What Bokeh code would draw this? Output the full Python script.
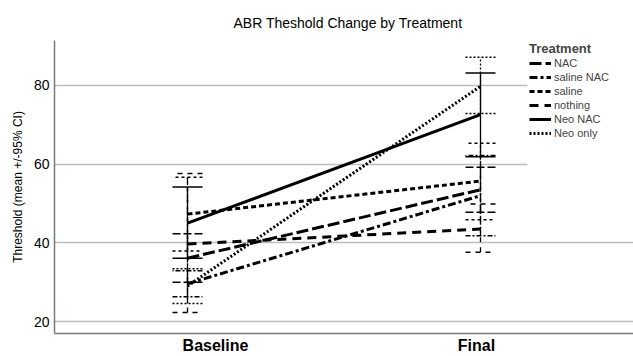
from bokeh.plotting import figure
from bokeh.models import (ColumnDataSource, Whisker, TeeHead, Legend, LegendItem,
                          FixedTicker, BoxAnnotation, Range1d)
from bokeh.embed import file_html
from bokeh.resources import INLINE

# ---------------- data ----------------
phases = ["Baseline", "Final"]
treatments = ["NAC", "saline NAC", "saline", "nothing", "Neo NAC", "Neo only"]

mean_baseline = [36.1, 29.6, 47.3, 39.7, 45.0, 29.0]
mean_final = [53.5, 52.0, 55.7, 43.5, 72.6, 79.8]

ci_low_baseline = [30.0, 26.3, 37.9, 22.3, 36.1, 24.6]
ci_high_baseline = [42.3, 32.9, 56.7, 57.6, 54.2, 33.4]
ci_low_final = [47.8, 41.8, 45.9, 37.6, 61.9, 72.9]
ci_high_final = [59.2, 62.2, 65.3, 49.9, 83.2, 87.2]

y_ticks = [20, 40, 60, 80]

# ---------------- styles ----------------
FONT = "Liberation Sans"
line_dash = {"NAC": "12 4", "saline NAC": "8 3 3 3", "saline": "5 3",
             "nothing": "9 6", "Neo NAC": "solid", "Neo only": "2 2"}
err_dash = {"NAC": "8 3", "saline NAC": "5 2 2 2", "saline": "3 3",
            "nothing": "5 5", "Neo NAC": "solid", "Neo only": "2 2"}

p = figure(width=633, height=356, output_backend="svg", toolbar_location=None,
           x_range=Range1d(-0.4539, 1.5222), y_range=Range1d(16.95, 91.44),
           min_border_left=54, min_border_right=0, min_border_top=40,
           min_border_bottom=22)
p.outline_line_color = None
p.background_fill_color = "white"

p.title.text = "ABR Theshold Change by Treatment"
p.title.text_font = FONT
p.title.text_font_size = "14px"
p.title.text_font_style = "normal"
p.title.align = "left"
p.title.offset = 179
p.title.standoff = 19
p.title.text_color = "black"

xs = list(range(len(phases)))

renderers = []
for i, t in enumerate(treatments):
    ys = [mean_baseline[i], mean_final[i]]
    src = ColumnDataSource(dict(x=xs,
                                lower=[ci_low_baseline[i], ci_low_final[i]],
                                upper=[ci_high_baseline[i], ci_high_final[i]]))
    w = Whisker(source=src, base="x", lower="lower", upper="upper",
                dimension="height", line_color="black", line_width=1.3,
                line_dash=err_dash[t],
                upper_head=TeeHead(size=30, line_color="black", line_width=1.5,
                                   line_dash=err_dash[t]),
                lower_head=TeeHead(size=30, line_color="black", line_width=1.5,
                                   line_dash=err_dash[t]))
    p.add_layout(w)
    r = p.line(xs, ys, line_color="black", line_width=3, line_dash=line_dash[t])
    renderers.append(r)

# axes
p.xaxis.ticker = FixedTicker(ticks=[0.0956, 0.9863])
p.xaxis.major_label_overrides = {0.0956: phases[0], 0.9863: phases[1]}
p.xaxis.major_label_text_font = FONT
p.xaxis.major_label_text_font_size = "16px"
p.xaxis.major_label_text_font_style = "bold"
p.xaxis.major_label_text_color = "black"
p.xaxis.major_label_standoff = 3
p.xaxis.major_tick_out = 0
p.xaxis.major_tick_in = 0
p.xaxis.major_tick_line_color = None
p.xaxis.minor_tick_line_color = None
p.xaxis.axis_line_color = "#7a7a7a"
p.xaxis.axis_line_width = 1.5

p.yaxis.ticker = FixedTicker(ticks=y_ticks)
p.yaxis.major_label_text_font = FONT
p.yaxis.major_label_text_font_size = "14px"
p.yaxis.major_label_text_color = "black"
p.yaxis.major_label_standoff = 5
p.yaxis.major_tick_out = 0
p.yaxis.major_tick_in = 0
p.yaxis.major_tick_line_color = None
p.yaxis.minor_tick_line_color = None
p.yaxis.axis_line_color = "#7a7a7a"
p.yaxis.axis_line_width = 1.5
p.yaxis.axis_label = "Threshold (mean +/-95% CI)"
p.yaxis.axis_label_text_font = FONT
p.yaxis.axis_label_text_font_size = "12px"
p.yaxis.axis_label_text_font_style = "normal"
p.yaxis.axis_label_text_color = "black"
p.yaxis.axis_label_standoff = 6

p.xgrid.grid_line_color = None
p.ygrid.ticker = FixedTicker(ticks=y_ticks)
p.ygrid.grid_line_color = "#bdbdbd"
p.ygrid.grid_line_width = 1.3

# white legend area hiding grid lines
mask = BoxAnnotation(left=1.1604, bottom=52, fill_color="white", fill_alpha=1.0,
                     line_color=None)
p.add_layout(mask)

legend = Legend(items=[LegendItem(label=t, renderers=[r]) for t, r in zip(treatments, renderers)],
                location=(475, 193), title="Treatment",
                title_text_font=FONT, title_text_font_size="13px",
                title_text_font_style="bold", title_standoff=0,
                label_text_font=FONT, label_text_font_size="11px",
                label_height=14, glyph_height=14, glyph_width=22,
                label_standoff=3, spacing=0, padding=0, margin=0,
                border_line_color=None, background_fill_alpha=0.0)
p.add_layout(legend, "center")

open("out.html", "w").write(file_html(p, INLINE))
